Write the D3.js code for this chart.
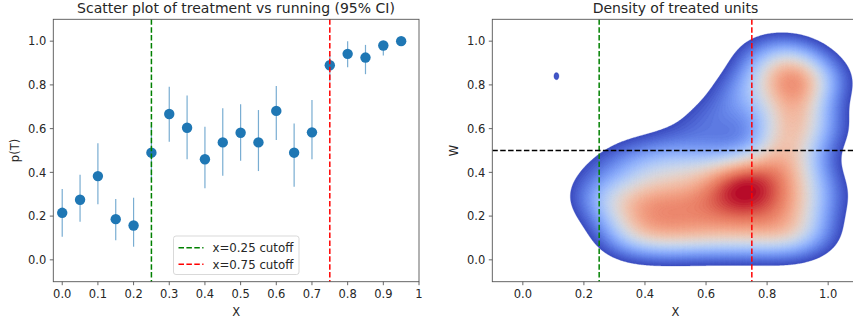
<!DOCTYPE html>
<html>
<head>
<meta charset="utf-8">
<script src="https://cdn.jsdelivr.net/npm/d3@7"></script>
<style>
  body { margin: 0; background: #fff; }
  svg { display: block; font-family: "DejaVu Sans", sans-serif; }
</style>
</head>
<body>
<figure id="chart" style="margin:0"></figure>
<script>
// ---- left panel: binned treatment share with 95% CI
const binX = [0, 0.05, 0.1, 0.15, 0.2, 0.25, 0.3, 0.35, 0.4, 0.45, 0.5, 0.55, 0.6, 0.65, 0.7, 0.75, 0.8, 0.85, 0.9, 0.95];
const binP = [0.215, 0.275, 0.383, 0.186, 0.157, 0.49, 0.667, 0.604, 0.46, 0.537, 0.581, 0.537, 0.681, 0.49, 0.583, 0.89, 0.942, 0.925, 0.98, 1.0];
const ciLow = [0.105, 0.174, 0.254, 0.09, 0.06, 0.365, 0.54, 0.46, 0.327, 0.385, 0.453, 0.406, 0.548, 0.334, 0.46, 0.815, 0.881, 0.849, 0.934, 1.0];
const ciHigh = [0.324, 0.389, 0.533, 0.278, 0.284, 0.615, 0.792, 0.751, 0.609, 0.693, 0.711, 0.685, 0.795, 0.624, 0.731, 0.937, 1.0, 0.983, 1.0, 1.0];
const leftXTicks = [0, 0.1, 0.2, 0.3, 0.4, 0.5, 0.6, 0.7, 0.8, 0.9, 1];
const leftXLabels = ["0.0", "0.1", "0.2", "0.3", "0.4", "0.5", "0.6", "0.7", "0.8", "0.9", "1"];
const yTicks = [0, 0.2, 0.4, 0.6, 0.8, 1.0];
const rightXTicks = [0, 0.2, 0.4, 0.6, 0.8, 1.0];
const cutoffs = [0.25, 0.75];
const cutoffLabels = ["x=0.25 cutoff", "x=0.75 cutoff"];
const cutoffColors = ["#008000", "#ff0000"];
const wCut = 0.5;

// ---- right panel: kernel centres (x, w, weight)
const kdeX = [0.35, 0.45, 0.55, 0.65, 0.75, 0.85, 0.93,
              0.30, 0.40, 0.50, 0.60, 0.70, 0.80, 0.90,
              0.40, 0.50, 0.60, 0.70, 0.80, 0.90,
              0.86, 0.88, 0.89, 0.88, 0.80, 0.97, 0.97, 0.98, 0.78,
              0.36, 0.50, 0.62, 0.72, 0.24, 0.26, 0.72];
const kdeY = [0.12, 0.12, 0.12, 0.12, 0.12, 0.12, 0.12,
              0.26, 0.26, 0.26, 0.26, 0.26, 0.26, 0.26,
              0.40, 0.40, 0.40, 0.40, 0.40, 0.40,
              0.53, 0.66, 0.78, 0.90, 0.84, 0.82, 0.60, 0.30, 0.95,
              0.48, 0.53, 0.63, 0.75, 0.30, 0.42, 0.34];
const kdeW = [0.8, 0.85, 0.8, 0.75, 0.75, 0.8, 0.6,
              0.65, 0.9, 0.8, 0.8, 0.9, 0.85, 0.75,
              0.5, 0.55, 0.6, 0.75, 0.8, 0.8,
              1.12, 1.08, 1.05, 0.95, 0.5, 0.55, 0.45, 0.3, 0.25,
              0.25, 0.3, 0.45, 0.55, 0.3, 0.2, 0.6];
const kdeBw = 0.085;
// lone treated unit far left (tiny island)
const islandX = [0.11], islandY = [0.84], islandW = [0.49];
const islandBw = [0.012, 0.024];

const width = 853, height = 323;
const svg = d3.select("figure#chart").append("svg")
  .attr("width", width).attr("height", height);

const textColor = "#262626";
const spineColor = "#555";

function dashedLine(g, x1, y1, x2, y2, color) {
  g.append("line")
    .attr("x1", x1).attr("y1", y1).attr("x2", x2).attr("y2", y2)
    .attr("stroke", color).attr("stroke-width", 1.5)
    .attr("stroke-dasharray", "5.5,2.4");
}

function drawFrame(g, x, y, xTicks, xLabels, xTitle, yTitle) {
  const [x0, x1] = x.range();
  const [y1, y0] = y.range();
  g.append("rect")
    .attr("x", x0).attr("y", y0).attr("width", x1 - x0).attr("height", y1 - y0)
    .attr("fill", "none").attr("stroke", spineColor).attr("stroke-width", 0.9);

  const xt = g.append("g").selectAll("g").data(xTicks).enter().append("g");
  xt.append("line")
    .attr("x1", d => x(d)).attr("x2", d => x(d))
    .attr("y1", y1).attr("y2", y1 + 3.5)
    .attr("stroke", spineColor).attr("stroke-width", 0.9);
  xt.append("text")
    .attr("x", d => x(d)).attr("y", y1 + 16)
    .attr("text-anchor", "middle").attr("font-size", 11.5).attr("fill", textColor)
    .text((d, i) => xLabels[i]);

  const yt = g.append("g").selectAll("g").data(yTicks).enter().append("g");
  yt.append("line")
    .attr("x1", x0 - 3.5).attr("x2", x0)
    .attr("y1", d => y(d)).attr("y2", d => y(d))
    .attr("stroke", spineColor).attr("stroke-width", 0.9);
  yt.append("text")
    .attr("x", x0 - 7).attr("y", d => y(d))
    .attr("dy", "0.36em")
    .attr("text-anchor", "end").attr("font-size", 11.5).attr("fill", textColor)
    .text(d => d.toFixed(1));

  g.append("text")
    .attr("x", (x0 + x1) / 2).attr("y", 316)
    .attr("text-anchor", "middle").attr("font-size", 11.5).attr("fill", textColor)
    .text(xTitle);
  g.append("text")
    .attr("transform", `translate(${x0 - 34},${(y0 + y1) / 2}) rotate(-90)`)
    .attr("text-anchor", "middle").attr("font-size", 11.5).attr("fill", textColor)
    .text(yTitle);
}

// ================= left panel =================
const xL = d3.scaleLinear().domain([-0.025, 1.0]).range([53.3, 419]);
const yL = d3.scaleLinear().domain([-0.1, 1.1]).range([281.7, 19.3]);
const gL = svg.append("g");

gL.append("text")
  .attr("x", 236).attr("y", 13)
  .attr("text-anchor", "middle").attr("font-size", 14).attr("fill", textColor)
  .text("Scatter plot of treatment vs running (95% CI)");

const bins = binX.map((x, i) => ({ x: x, p: binP[i], lo: ciLow[i], hi: ciHigh[i] }));

gL.append("g").selectAll("line").data(bins).enter().append("line")
  .attr("x1", d => xL(d.x)).attr("x2", d => xL(d.x))
  .attr("y1", d => yL(d.lo)).attr("y2", d => yL(d.hi))
  .attr("stroke", "#1f77b4").attr("stroke-opacity", 0.6).attr("stroke-width", 1.2);

gL.append("g").selectAll("circle").data(bins).enter().append("circle")
  .attr("cx", d => xL(d.x)).attr("cy", d => yL(d.p)).attr("r", 5.2)
  .attr("fill", "#1f77b4");

cutoffs.forEach((c, i) => dashedLine(gL, xL(c), yL(1.1), xL(c), yL(-0.1), cutoffColors[i]));

drawFrame(gL, xL, yL, leftXTicks, leftXLabels, "X", "p(T)");

// legend
const lg = gL.append("g").attr("transform", "translate(173.5,236)");
lg.append("rect").attr("width", 125.5).attr("height", 38.5).attr("rx", 2.5)
  .attr("fill", "#fff").attr("fill-opacity", 0.8).attr("stroke", "#d5d5d5").attr("stroke-width", 0.9);
cutoffLabels.forEach((lab, i) => {
  const yy = 11.7 + i * 16.6;
  dashedLine(lg, 5, yy, 30, yy, cutoffColors[i]);
  lg.append("text").attr("x", 39).attr("y", yy).attr("dy", "0.36em")
    .attr("font-size", 11.8).attr("fill", textColor).text(lab);
});

// ================= right panel =================
const xR = d3.scaleLinear().domain([-0.1, 1.1]).range([492.3, 858.7]);
const yR = d3.scaleLinear().domain([-0.1, 1.1]).range([281.7, 19.3]);
const gR = svg.append("g");

gR.append("text")
  .attr("x", 675.5).attr("y", 13)
  .attr("text-anchor", "middle").attr("font-size", 14).attr("fill", textColor)
  .text("Density of treated units");

// density grid
const nx = 300, ny = 300;
const gx0 = -0.1, gx1 = 1.1, gy0 = -0.1, gy1 = 1.1;
const dx = (gx1 - gx0) / (nx - 1), dy = (gy1 - gy0) / (ny - 1);
const grid = new Float64Array(nx * ny);
for (let j = 0; j < ny; j++) {
  const yv = gy0 + j * dy;
  for (let i = 0; i < nx; i++) {
    const xv = gx0 + i * dx;
    let s = 0;
    for (let k = 0; k < kdeX.length; k++) {
      const ex = (xv - kdeX[k]) / kdeBw, ey = (yv - kdeY[k]) / kdeBw;
      s += kdeW[k] * Math.exp(-0.5 * (ex * ex + ey * ey));
    }
    for (let k = 0; k < islandX.length; k++) {
      const ex = (xv - islandX[k]) / islandBw[0], ey = (yv - islandY[k]) / islandBw[1];
      s += islandW[k] * Math.exp(-0.5 * (ex * ex + ey * ey));
    }
    grid[j * nx + i] = s;
  }
}

// iso-proportion levels, like seaborn's kdeplot(thresh=0.05)
const nLevels = 100, thresh = 0.05;
const sorted = Array.from(grid).sort((a, b) => b - a);
const total = d3.sum(sorted);
const cum = [];
let acc = 0;
sorted.forEach(v => { acc += v; cum.push(acc / total); });
const levels = d3.range(nLevels).map(i => {
  const p = thresh + (1 - thresh) * i / (nLevels - 1);
  const idx = Math.min(d3.bisectLeft(cum, 1 - p), sorted.length - 1);
  return sorted[idx];
}).sort((a, b) => a - b);

const coolwarm = d3.interpolateRgbBasis(["#3b4cc0", "#6282ea", "#8db0fe", "#b8d0f9", "#dddddd", "#f5c4ad", "#f49a7b", "#de604d", "#b40426"]);
// colour of each band follows its mid density value (like contourf)
const lo = levels[0], hi = levels[levels.length - 1];
const bandColor = i => coolwarm(((levels[i] + levels[i + 1]) / 2 - lo) / (hi - lo));

const contours = d3.contours().size([nx, ny]).thresholds(levels.slice(0, -1))(grid);
const proj = d3.geoTransform({
  point: function (px, py) {
    this.stream.point(xR(gx0 + (px - 0.5) * dx), yR(gy0 + (py - 0.5) * dy));
  }
});
const path = d3.geoPath(proj);

svg.append("clipPath").attr("id", "clipR").append("rect")
  .attr("x", 492.3).attr("y", 19.3).attr("width", 366.4).attr("height", 262.4);

gR.append("g").attr("clip-path", "url(#clipR)")
  .selectAll("path").data(contours).enter().append("path")
  .attr("d", path)
  .attr("fill", (d, i) => bandColor(i))
  .attr("stroke", (d, i) => bandColor(i))
  .attr("stroke-width", 0.3);

const gLines = gR.append("g").attr("clip-path", "url(#clipR)");
cutoffs.forEach((c, i) => dashedLine(gLines, xR(c), yR(1.1), xR(c), yR(-0.1), cutoffColors[i]));
dashedLine(gLines, xR(-0.1), yR(wCut), xR(1.1), yR(wCut), "#000");

drawFrame(gR, xR, yR, rightXTicks, rightXTicks.map(d => d.toFixed(1)), "X", "W");
</script>
</body>
</html>
